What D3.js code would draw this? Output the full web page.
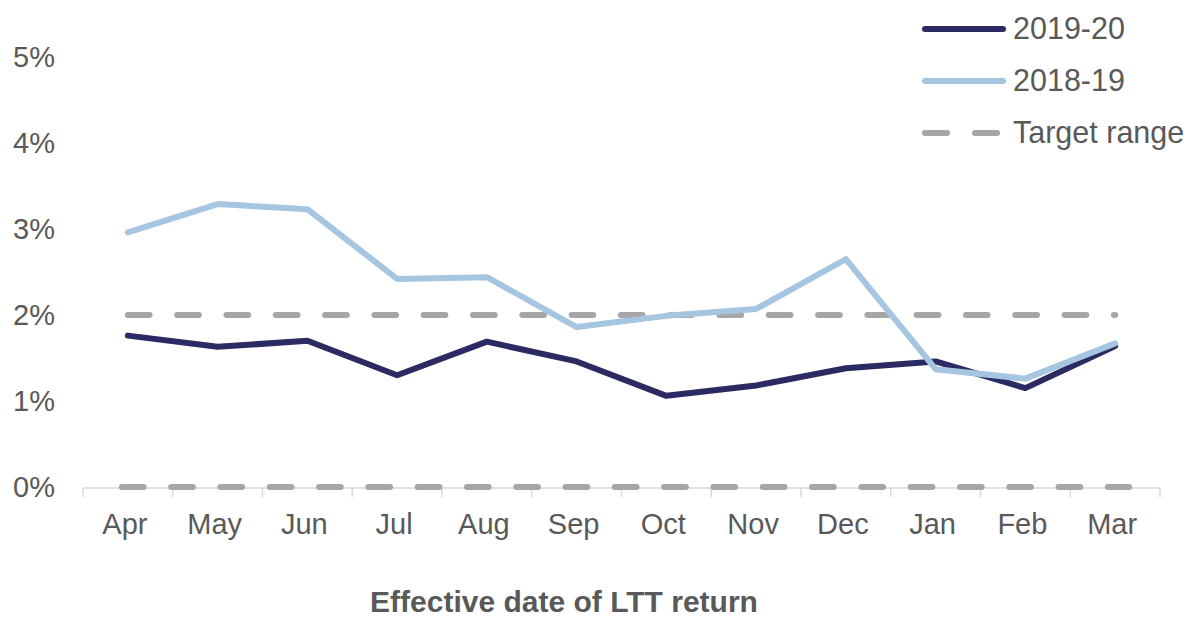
<!DOCTYPE html>
<html>
<head>
<meta charset="utf-8">
<script src="https://cdn.jsdelivr.net/npm/d3@7"></script>
<style>
  body { margin: 0; background: #fff; }
  text { font-family: "Liberation Sans", Arial, sans-serif; fill: #595959; }
</style>
</head>
<body>
<div id="chart"></div>
<script>
const months = ["Apr", "May", "Jun", "Jul", "Aug", "Sep", "Oct", "Nov", "Dec", "Jan", "Feb", "Mar"];
const y2019_20 = [1.76, 1.63, 1.70, 1.30, 1.69, 1.46, 1.06, 1.18, 1.38, 1.46, 1.15, 1.64];
const y2018_19 = [2.96, 3.29, 3.23, 2.42, 2.44, 1.86, 1.99, 2.07, 2.65, 1.37, 1.26, 1.67];
const targetRange = [0, 2];
const yTicks = [0, 1, 2, 3, 4, 5];

const width = 1199, height = 619;
const margin = { top: 57, right: 39, bottom: 132, left: 83 };
const navy = "#2b2a62", light = "#a6c5e0", grey = "#a6a6a6";

const x = d3.scaleBand(months, [margin.left, width - margin.right]);
const y = d3.scaleLinear([0, 5], [height - margin.bottom, margin.top]);
const cx = m => x(m) + x.bandwidth() / 2;

const svg = d3.select("#chart").append("svg")
    .attr("width", width)
    .attr("height", height)
    .attr("viewBox", [0, 0, width, height]);

// x axis: light rule with ticks between categories
const axisY = y(0) + 1;
svg.append("line")
    .attr("x1", margin.left).attr("x2", width - margin.right)
    .attr("y1", axisY).attr("y2", axisY)
    .attr("stroke", "#d9d9d9").attr("stroke-width", 1.5);
svg.append("g")
    .selectAll("line")
    .data(d3.range(months.length + 1))
    .join("line")
    .attr("x1", i => margin.left + i * x.step())
    .attr("x2", i => margin.left + i * x.step())
    .attr("y1", axisY).attr("y2", axisY + 9)
    .attr("stroke", "#d9d9d9").attr("stroke-width", 1.5);

svg.append("g")
    .selectAll("text")
    .data(months)
    .join("text")
    .attr("x", d => cx(d) - 3)
    .attr("y", 534)
    .attr("text-anchor", "middle")
    .attr("font-size", 29)
    .text(d => d);

// y labels
svg.append("g")
    .selectAll("text")
    .data(yTicks)
    .join("text")
    .attr("x", 55)
    .attr("y", d => y(d) + 10)
    .attr("text-anchor", "end")
    .attr("font-size", 29)
    .text(d => d + "%");

// target range dashed lines
svg.append("g")
    .selectAll("line")
    .data(targetRange)
    .join("line")
    .attr("x1", d => cx(months[0]) - (d === 0 ? 6 : 0))
    .attr("x2", d => cx(months[months.length - 1]) + (d === 0 ? 14 : 0))
    .attr("y1", d => y(d)).attr("y2", d => y(d))
    .attr("stroke", grey)
    .attr("stroke-width", 6)
    .attr("stroke-linecap", "round")
    .attr("stroke-dasharray", "21.7,27.6");

const line = d3.line()
    .x((d, i) => cx(months[i]))
    .y(d => y(d));

svg.append("path")
    .attr("d", line(y2019_20))
    .attr("fill", "none")
    .attr("stroke", navy)
    .attr("stroke-width", 6)
    .attr("stroke-linecap", "round")
    .attr("stroke-linejoin", "round");

svg.append("path")
    .attr("d", line(y2018_19))
    .attr("fill", "none")
    .attr("stroke", light)
    .attr("stroke-width", 6)
    .attr("stroke-linecap", "round")
    .attr("stroke-linejoin", "round");

// legend
const legend = [
  { label: "2019-20", color: navy, dash: null },
  { label: "2018-19", color: light, dash: null },
  { label: "Target range", color: grey, dash: "22,28" }
];
const lg = svg.append("g")
    .selectAll("g")
    .data(legend)
    .join("g")
    .attr("transform", (d, i) => `translate(925,${29 + i * 52})`);
lg.append("line")
    .attr("x1", 0).attr("x2", 78)
    .attr("stroke", d => d.color)
    .attr("stroke-width", 6)
    .attr("stroke-linecap", "round")
    .attr("stroke-dasharray", d => d.dash);
lg.append("text")
    .attr("x", 88)
    .attr("y", 10)
    .attr("font-size", 30.5)
    .text(d => d.label);

svg.append("text")
    .attr("x", 564)
    .attr("y", 612)
    .attr("text-anchor", "middle")
    .attr("font-size", 30)
    .attr("font-weight", "bold")
    .text("Effective date of LTT return");
</script>
</body>
</html>
